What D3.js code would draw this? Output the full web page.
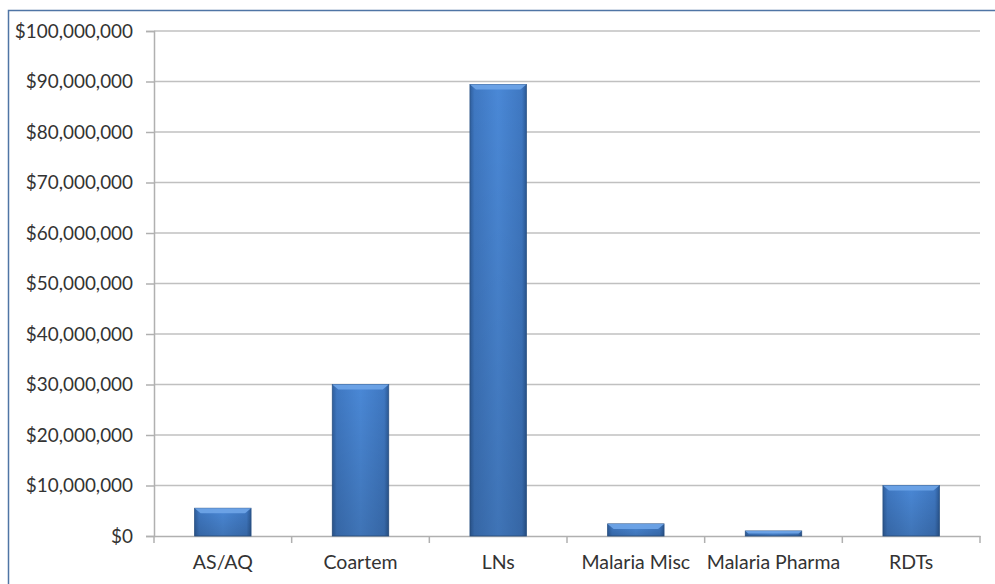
<!DOCTYPE html>
<html><head><meta charset="utf-8">
<script src="https://cdn.jsdelivr.net/npm/d3@7"></script>
<style>body{margin:0;background:#fff}svg{display:block}</style>
</head><body>
<script>
const categories = ["AS/AQ","Coartem","LNs","Malaria Misc","Malaria Pharma","RDTs"];
const values = [5500000, 30000000, 89400000, 2400000, 1000000, 10000000];
const yTicks = [0,10000000,20000000,30000000,40000000,50000000,60000000,70000000,80000000,90000000,100000000];

(function(){
const W = 995, H = 584;
const svg = d3.select("body").append("svg").attr("width", W).attr("height", H);
const defs = svg.append("defs");
const g1 = defs.append("linearGradient").attr("id","barg").attr("x1","0").attr("x2","1").attr("y1","0").attr("y2","0");
g1.append("stop").attr("offset","0").attr("stop-color","#2f5f9e");
g1.append("stop").attr("offset","0.08").attr("stop-color","#3f78c2");
g1.append("stop").attr("offset","0.5").attr("stop-color","#4a88d6");
g1.append("stop").attr("offset","0.92").attr("stop-color","#3f78c2");
g1.append("stop").attr("offset","1").attr("stop-color","#2c5a96");
const g2 = defs.append("linearGradient").attr("id","barv").attr("x1","0").attr("x2","0").attr("y1","0").attr("y2","1");
g2.append("stop").attr("offset","0").attr("stop-color","#000").attr("stop-opacity",0);
g2.append("stop").attr("offset","1").attr("stop-color","#000").attr("stop-opacity",0.15);

// outer border
svg.append("rect").attr("x",8.5).attr("y",10.5).attr("width",1000).attr("height",600)
  .attr("fill","none").attr("stroke","#4f75a5").attr("stroke-width",1.5);

const pL = 154, pR = 980, pT = 31, pB = 536;
const x = d3.scaleBand().domain(categories).range([pL,pR]).paddingInner(0.59).paddingOuter(0.295);
const xb = d3.scaleBand().domain(categories).range([pL,pR]);
const y = d3.scaleLinear().domain([0,100000000]).range([pB,pT]);
const fmt = v => "$" + d3.format(",")(v);
const font = "Lato, 'Open Sans', sans-serif";

// gridlines
svg.append("g").selectAll("line").data(yTicks.filter(d=>d>0)).join("line")
  .attr("x1",pL).attr("x2",pR).attr("y1",d=>y(d)).attr("y2",d=>y(d))
  .attr("stroke","#c0c0c0").attr("stroke-width",1.5);

// y axis
const ya = svg.append("g").attr("transform",`translate(${pL},0)`)
  .call(d3.axisLeft(y).tickValues(yTicks).tickFormat(fmt).tickSize(8).tickPadding(13));
ya.select(".domain").attr("stroke","#b0b0b0").attr("stroke-width",1.5);
ya.selectAll(".tick line").attr("stroke","#b0b0b0").attr("stroke-width",1.5);
ya.selectAll("text").attr("fill","#333").style("font-family",font).style("font-size","18.9px");

// x axis
const xa = svg.append("g").attr("transform",`translate(0,${pB})`)
  .call(d3.axisBottom(xb).tickSize(0).tickPadding(19));
xa.select(".domain").attr("stroke","#b0b0b0").attr("stroke-width",1.5);
xa.selectAll("text").attr("fill","#333").style("font-family",font).style("font-size","19.5px");
svg.append("g").selectAll("line").data(d3.range(categories.length+1)).join("line")
  .attr("x1",i=>pL+i*xb.step()).attr("x2",i=>pL+i*xb.step())
  .attr("y1",pB).attr("y2",pB+7).attr("stroke","#b0b0b0").attr("stroke-width",1.5);

// bars
const bars = svg.append("g").selectAll("g").data(categories).join("g");
bars.append("rect").attr("x",d=>x(d)).attr("width",x.bandwidth())
  .attr("y",(d,i)=>y(values[i])).attr("height",(d,i)=>pB-y(values[i]))
  .attr("fill","url(#barg)").attr("stroke","#2d5588").attr("stroke-width",0.8);
bars.append("rect").attr("x",d=>x(d)).attr("width",x.bandwidth())
  .attr("y",(d,i)=>y(values[i])).attr("height",(d,i)=>pB-y(values[i]))
  .attr("fill","url(#barv)");
// top bevel
bars.append("path").attr("d",(d,i)=>{
  const x0=x(d), x1=x0+x.bandwidth(), yt=y(values[i]);
  const h=Math.min(5,(pB-yt)/2), b=Math.min(6,h*1.2);
  return `M${x0},${yt}L${x1},${yt}L${x1-b},${yt+h}L${x0+b},${yt+h}Z`;
}).attr("fill","#6fa5e8").attr("opacity",0.9);
})();
</script>
</body></html>
